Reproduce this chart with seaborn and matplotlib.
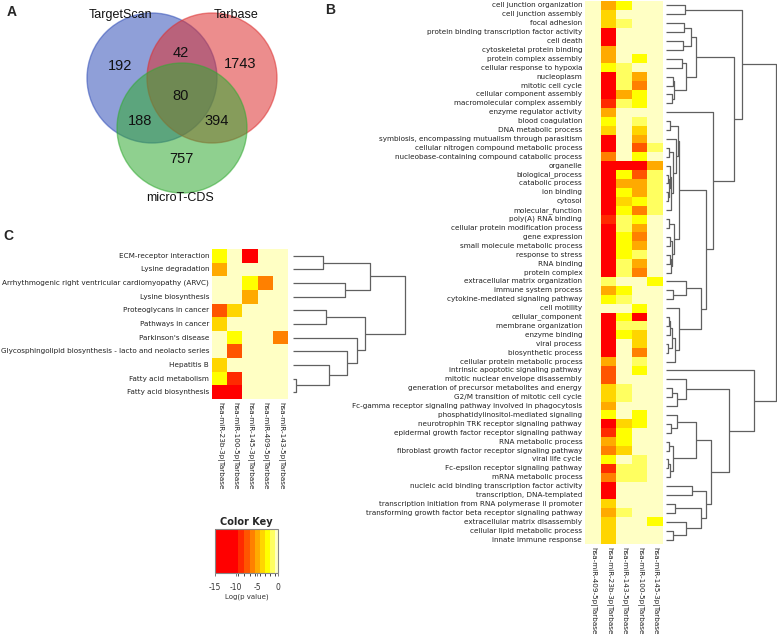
import numpy as np
import pandas as pd
import matplotlib
matplotlib.use("Agg")
import matplotlib.pyplot as plt
import seaborn as sns
from matplotlib.colors import ListedColormap, BoundaryNorm
from matplotlib.patches import Circle

# ---------------- data ----------------
venn_names = ['TargetScan', 'Tarbase', 'microT-CDS']
venn_regions = ['100', '110', '010', '111', '101', '011', '001']
venn_counts = [192, 42, 1743, 80, 188, 394, 757]

go_terms = [
    'cell junction organization', 'cell junction assembly', 'focal adhesion',
    'protein binding transcription factor activity', 'cell death',
    'cytoskeletal protein binding', 'protein complex assembly',
    'cellular response to hypoxia', 'nucleoplasm', 'mitotic cell cycle',
    'cellular component assembly', 'macromolecular complex assembly',
    'enzyme regulator activity', 'blood coagulation', 'DNA metabolic process',
    'symbiosis, encompassing mutualism through parasitism',
    'cellular nitrogen compound metabolic process',
    'nucleobase-containing compound catabolic process', 'organelle',
    'biological_process', 'catabolic process', 'ion binding', 'cytosol',
    'molecular_function', 'poly(A) RNA binding',
    'cellular protein modification process', 'gene expression',
    'small molecule metabolic process', 'response to stress', 'RNA binding',
    'protein complex', 'extracellular matrix organization',
    'immune system process', 'cytokine-mediated signaling pathway',
    'cell motility', 'cellular_component', 'membrane organization',
    'enzyme binding', 'viral process', 'biosynthetic process',
    'cellular protein metabolic process',
    'intrinsic apoptotic signaling pathway',
    'mitotic nuclear envelope disassembly',
    'generation of precursor metabolites and energy',
    'G2/M transition of mitotic cell cycle',
    'Fc-gamma receptor signaling pathway involved in phagocytosis',
    'phosphatidylinositol-mediated signaling',
    'neurotrophin TRK receptor signaling pathway',
    'epidermal growth factor receptor signaling pathway',
    'RNA metabolic process',
    'fibroblast growth factor receptor signaling pathway', 'viral life cycle',
    'Fc-epsilon receptor signaling pathway', 'mRNA metabolic process',
    'nucleic acid binding transcription factor activity',
    'transcription, DNA-templated',
    'transcription initiation from RNA polymerase II promoter',
    'transforming growth factor beta receptor signaling pathway',
    'extracellular matrix disassembly', 'cellular lipid metabolic process',
    'innate immune response',
]
go_mirnas = ['hsa-miR-409-5p|Tarbase', 'hsa-miR-23b-3p|Tarbase',
             'hsa-miR-143-5p|Tarbase', 'hsa-miR-100-5p|Tarbase',
             'hsa-miR-145-3p|Tarbase']
go_logp = [
    [0, -5, -2.5, 0, 0], [0, -4, 0, 0, 0], [0, -4, -1.5, 0, 0],
    [0, -12, 0, 0, 0], [0, -12, 0, 0, 0], [0, -5, 0, 0, 0],
    [0, -5, 0, -2.5, 0], [0, -2.5, -1.5, 0, 0], [0, -12, -1.5, -5, 0],
    [0, -12, -1.5, -6, 0], [0, -12, -5, -2.5, 0], [0, -9, -1.5, -2.5, 0],
    [0, -5, 0, 0, 0], [0, -2.5, 0, -1.5, 0], [0, -4, 0, -4, 0],
    [0, -12, 0, -5, 0], [0, -12, 0, -7, -1.5], [0, -6, 0, -2.5, 0],
    [0, -12, -12, -12, -5], [0, -12, -2.5, -7, -1.5], [0, -12, -5, -5, -1.5],
    [0, -12, -2.5, -5, -1.5], [0, -12, -4, -2.5, -1.5], [0, -12, -2.5, -6, -1.5],
    [0, -9, -1.5, -2.5, 0], [0, -12, -1.5, -5, 0], [0, -12, -2.5, -6, 0],
    [0, -12, -2.5, -5, 0], [0, -12, -2.5, -1.5, 0], [0, -12, -1.5, -5, 0],
    [0, -12, -1.5, -6, 0], [0, -1.5, 0, 0, -2.5], [0, -5, -2.5, 0, 0],
    [0, -2.5, -1.5, 0, 0], [0, 0, 0, -2.5, 0], [0, -12, -2.5, -12, 0],
    [0, -12, -1.5, -1.5, 0], [0, -12, -2.5, -4, 0], [0, -12, 0, -4, 0],
    [0, -12, 0, -6, 0], [0, -5, 0, -1.5, 0], [0, -7, 0, -2.5, 0],
    [0, -7, 0, 0, 0], [0, -4, -1.5, 0, 0], [0, -4, -1.5, 0, 0],
    [0, -5, 0, 0, 0], [0, -2.5, 0, -2.5, 0], [0, -12, -4, -2.5, 0],
    [0, -8.5, -2.5, 0, 0], [0, -5, -2.5, 0, 0], [0, -6, -4, 0, 0],
    [0, -2.5, 0, -1.5, 0], [0, -8.5, -1.5, -1.5, 0], [0, -6, -1.5, -1.5, 0],
    [0, -12, 0, 0, 0], [0, -12, 0, 0, 0], [0, -4, 0, 0, 0],
    [0, -5, -1.5, 0, 0], [0, -4, 0, 0, -2.5], [0, -4, 0, 0, 0],
    [0, -4, 0, 0, 0],
]
# row dendrogram: (node, left, right, height); ints are row indices
go_tree = [
    ('t01', 0, 1, 19), ('t23', 2, 3, 18), ('t45', 4, 5, 17),
    ('t2_5', 't23', 't45', 25), ('t67', 6, 7, 16), ('t89', 8, 9, 7),
    ('t1011', 10, 11, 6), ('t8_11', 't89', 't1011', 8),
    ('t6_11', 't67', 't8_11', 20), ('t2_11', 't2_5', 't6_11', 30),
    ('a1', 13, 14, 4), ('a2', 16, 17, 3), ('a3', 19, 20, 2),
    ('a4', 21, 22, 1.5), ('a5', 'a3', 'a4', 2.5), ('a6', 18, 'a5', 4),
    ('a7', 'a6', 23, 5), ('a8', 'a2', 'a7', 7), ('a9', 15, 'a8', 10),
    ('a10', 'a1', 'a9', 12),
    ('b1', 24, 25, 3), ('b2', 26, 27, 4), ('b3', 28, 29, 3.5),
    ('b4', 'b3', 30, 5), ('b5', 'b2', 'b4', 6), ('b6', 'b1', 'b5', 8),
    ('c1', 'a10', 'b6', 13),
    ('d1', 32, 33, 7), ('d2', 31, 'd1', 20),
    ('e1', 35, 36, 3), ('e2', 'e1', 37, 4), ('e3', 38, 39, 2),
    ('e4', 'e2', 'e3', 6), ('e5', 'e4', 40, 9), ('e6', 34, 'e5', 13),
    ('d3', 'd2', 'e6', 35),
    ('x', 'c1', 'd3', 40), ('m', 12, 'x', 46.7),
    ('n', 't2_11', 'm', 67.7), ('top', 't01', 'n', 76),
    ('g1', 43, 44, 6), ('g2', 'g1', 45, 11), ('g3', 42, 'g2', 20),
    ('h1', 47, 48, 5), ('h2', 46, 'h1', 11), ('h3', 49, 50, 3),
    ('h4', 51, 52, 2), ('h5', 'h4', 53, 4), ('h6', 'h3', 'h5', 7),
    ('h7', 'h2', 'h6', 30),
    ('i1', 54, 55, 26), ('i2', 56, 57, 9), ('i3', 59, 60, 7),
    ('i4', 58, 'i3', 20), ('i5', 'i2', 'i4', 35), ('i6', 'i1', 'i5', 40),
    ('i7', 'h7', 'i6', 45), ('g4', 'g3', 'i7', 63), ('j', 41, 'g4', 88),
    ('root', 'top', 'j', 110),
]

kegg_terms = [
    'ECM-receptor interaction', 'Lysine degradation',
    'Arrhythmogenic right ventricular cardiomyopathy (ARVC)',
    'Lysine biosynthesis', 'Proteoglycans in cancer', 'Pathways in cancer',
    "Parkinson's disease",
    'Glycosphingolipid biosynthesis - lacto and neolacto series',
    'Hepatitis B', 'Fatty acid metabolism', 'Fatty acid biosynthesis',
]
kegg_mirnas = ['hsa-miR-23b-3p|Tarbase', 'hsa-miR-100-5p|Tarbase',
               'hsa-miR-145-3p|Tarbase', 'hsa-miR-409-5p|Tarbase',
               'hsa-miR-143-5p|Tarbase']
kegg_logp = [
    [-2.5, 0, -12, 0, 0], [-5, 0, 0, 0, 0], [0, 0, -2.5, -6, 0],
    [0, 0, -5, 0, 0], [-7, -4, 0, 0, 0], [-4, 0, 0, 0, 0],
    [0, -2.5, 0, 0, -6], [0, -7, 0, 0, 0], [-4, 0, 0, 0, 0],
    [-2.5, -8.5, 0, 0, 0], [-12, -12, 0, 0, 0],
]
kegg_tree = [
    ('k01', 0, 1, 30), ('k23', 2, 3, 52), ('k0_3', 'k01', 'k23', 77),
    ('k45', 4, 5, 33), ('k910', 9, 10, 3), ('k8_10', 8, 'k910', 36),
    ('k7_10', 7, 'k8_10', 54), ('k6_10', 6, 'k7_10', 64),
    ('k4_10', 'k45', 'k6_10', 72), ('kroot', 'k0_3', 'k4_10', 112),
]

# colour key breaks (log p value) and colours
key_breaks = [-15, -9.5, -8, -6.7, -5.5, -4.3, -3, -1.8, -0.8, 0]
key_colors = ['#FF0000', '#FF2A00', '#FF5500', '#FF8000', '#FFAA00',
              '#FFD500', '#FFFF00', '#FFFF60', '#FFFFC4']


def draw_tree(ax, tree, n, color='#606060'):
    ypos = {i: i + 0.5 for i in range(n)}
    hts = {i: 0.0 for i in range(n)}
    for node, a, b, h in tree:
        ax.plot([hts[a], h, h, hts[b]], [ypos[a], ypos[a], ypos[b], ypos[b]],
                color=color, lw=0.9, solid_capstyle='butt')
        ypos[node] = (ypos[a] + ypos[b]) / 2
        hts[node] = h
    ax.set_ylim(n, 0)
    ax.axis('off')


# ---------------- figure ----------------
sns.set_style("white")
plt.rcParams['font.family'] = ['DejaVu Sans']
W, H = 777, 636
fig = plt.figure(figsize=(W / 100, H / 100), dpi=100)


def px_axes(x0, y0, x1, y1):
    return fig.add_axes([x0 / W, 1 - y1 / H, (x1 - x0) / W, (y1 - y0) / H])


cmap = ListedColormap(key_colors)
norm = BoundaryNorm(key_breaks, cmap.N, clip=True)

# ---- panel A: venn ----
axA = px_axes(0, 0, 280, 210)
axA.set_xlim(0, 280)
axA.set_ylim(210, 0)
axA.set_aspect('equal')
axA.axis('off')
circ = [(152, 78, '#3350b8'), (212, 78, '#dd3030'), (182, 128, '#33aa33')]
for cx, cy, col in circ:
    axA.add_patch(Circle((cx, cy), 65, facecolor=col, alpha=0.55,
                         edgecolor=col, lw=1))
region_xy = {'100': (120, 66), '110': (181, 53), '010': (240, 64),
             '111': (181, 96), '101': (140, 121), '011': (217, 121),
             '001': (181, 159)}
for r, c in zip(venn_regions, venn_counts):
    axA.text(*region_xy[r], str(c), ha='center', va='center', fontsize=10.5,
             family='Liberation Sans', color='#111111')
name_xy = [(121, 15), (236, 15), (180, 198)]
for nm, (x, y) in zip(venn_names, name_xy):
    axA.text(x, y, nm, ha='center', va='center', fontsize=9,
             family='Liberation Sans', color='#111111')

# ---- panel B: GO heatmap ----
dfB = pd.DataFrame(go_logp, index=go_terms, columns=go_mirnas)
axB = px_axes(585, 1, 663, 544)
sns.heatmap(dfB, ax=axB, cmap=cmap, norm=norm, cbar=False,
            xticklabels=True, yticklabels=True)
axB.tick_params(length=0, pad=2)
axB.set_yticklabels(go_terms, fontsize=5.2, color='#222222')
axB.set_xticklabels(go_mirnas, rotation=270, fontsize=5.2, color='#222222',
                    va='top', ha='center')
axB.set_xlabel('')
axB.set_ylabel('')
axBd = px_axes(666, 1, 778, 544)
draw_tree(axBd, go_tree, len(go_terms))
axBd.set_xlim(0, 112)

# ---- panel C: KEGG heatmap ----
dfC = pd.DataFrame(kegg_logp, index=kegg_terms, columns=kegg_mirnas)
axC = px_axes(212, 249, 288, 399)
sns.heatmap(dfC, ax=axC, cmap=cmap, norm=norm, cbar=False,
            xticklabels=True, yticklabels=True)
axC.tick_params(length=0, pad=2)
axC.set_yticklabels(kegg_terms, fontsize=5.2, color='#222222')
axC.set_xticklabels(kegg_mirnas, rotation=270, fontsize=5.2, color='#222222',
                    va='top', ha='center')
axC.set_xlabel('')
axC.set_ylabel('')
axCd = px_axes(293, 249, 413, 399)
draw_tree(axCd, kegg_tree, len(kegg_terms))
axCd.set_xlim(0, 120)

# ---- colour key ----
axK = px_axes(215, 529, 278, 573)
cb = fig.colorbar(plt.cm.ScalarMappable(norm=norm, cmap=cmap), cax=axK,
                  orientation='horizontal', spacing='proportional',
                  ticks=[-15, -10, -5, 0])
cb.outline.set_edgecolor('#888888')
cb.outline.set_linewidth(0.8)
axK.tick_params(labelsize=5.5, length=2.5, width=0.6, color='#666666',
                pad=5, labelcolor='#333333')
axK.set_xticklabels(['-15', '-10', '-5', '0'])
axK.set_xlabel('Log(p value)', fontsize=5, labelpad=1, color='#333333')
axK.set_title('Color Key', fontsize=7, fontweight='bold', pad=3)

# panel letters
for lab, (x, y) in zip(['A', 'B', 'C'], [(12, 12), (330, 10), (8, 236)]):
    fig.text(x / W, 1 - y / H, lab, fontsize=10, fontweight='bold',
             family='Liberation Sans', ha='center', va='center')

fig.savefig('out.png', dpi=100)
